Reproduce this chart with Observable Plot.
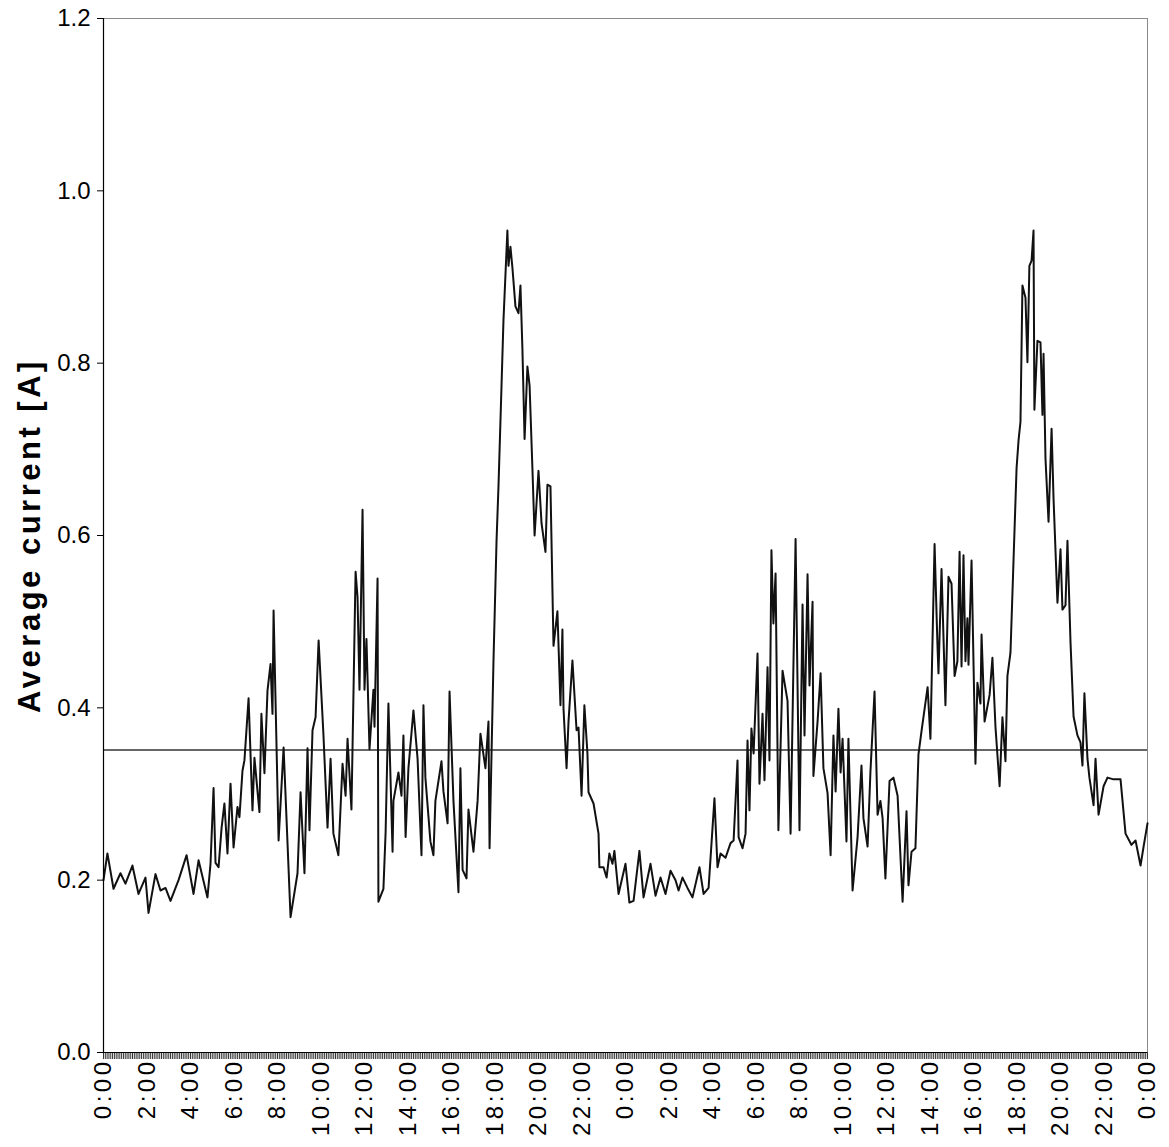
<!DOCTYPE html>
<html><head><meta charset="utf-8">
<script src="https://cdn.jsdelivr.net/npm/d3@7"></script>
<script src="https://cdn.jsdelivr.net/npm/@observablehq/plot@0.6"></script>
<style>
html,body{margin:0;padding:0;background:#fff}svg{display:block}
g[aria-label="x-axis tick label"] text{letter-spacing:3.5px}
g[aria-label="text"] text{letter-spacing:3.5px}
</style>
</head><body><div id="chart"></div>
<script>
// Time in hours since the first midnight (48 h shown)
const hours = [
0.00,0.18,0.46,0.78,1.01,1.33,1.61,1.93,2.07,2.39,2.62,2.85,3.08,3.45,3.82,4.14,4.37,4.78,4.92,5.06,
5.15,5.29,5.43,5.56,5.70,5.84,5.98,6.16,6.25,6.39,6.48,6.67,6.85,6.94,7.17,7.26,7.40,7.54,7.68,7.77,
7.82,8.05,8.28,8.60,8.92,9.06,9.24,9.38,9.47,9.61,9.75,9.89,10.11,10.30,10.44,10.57,10.80,10.99,11.13,11.22,
11.40,11.59,11.68,11.77,11.91,12.00,12.09,12.23,12.41,12.46,12.60,12.64,12.87,12.97,13.10,13.29,13.33,13.56,13.70,13.79,
13.89,14.02,14.25,14.44,14.62,14.71,14.80,15.03,15.17,15.26,15.54,15.63,15.82,15.91,16.09,16.32,16.41,16.51,16.69,16.78,
17.01,17.20,17.33,17.56,17.70,17.75,17.84,17.93,18.07,18.16,18.30,18.39,18.57,18.62,18.71,18.80,18.94,19.08,19.17,19.26,
19.36,19.49,19.59,19.72,19.82,20.00,20.14,20.32,20.41,20.55,20.69,20.87,21.01,21.10,21.15,21.29,21.38,21.56,21.75,21.84,
21.98,22.11,22.25,22.30,22.53,22.76,22.80,22.99,23.13,23.26,23.40,23.49,23.68,24.00,24.18,24.37,24.64,24.83,25.15,25.38,
25.61,25.84,26.07,26.30,26.44,26.62,26.85,27.08,27.40,27.59,27.82,28.09,28.23,28.37,28.60,28.83,28.97,29.15,29.20,29.38,
29.52,29.61,29.70,29.79,29.89,30.07,30.16,30.30,30.39,30.53,30.62,30.71,30.80,30.90,31.03,31.22,31.45,31.59,31.82,32.00,
32.14,32.23,32.37,32.46,32.60,32.64,32.83,32.97,33.10,33.29,33.43,33.56,33.66,33.79,33.89,33.98,34.16,34.25,34.44,34.67,
34.85,34.94,35.13,35.26,35.45,35.59,35.72,35.82,35.95,36.14,36.32,36.51,36.74,36.92,37.01,37.15,37.33,37.47,37.61,37.89,
38.02,38.21,38.34,38.39,38.53,38.71,38.85,38.99,39.13,39.26,39.36,39.45,39.54,39.63,39.72,39.77,39.91,40.09,40.18,40.32,
40.37,40.51,40.74,40.87,41.01,41.20,41.33,41.47,41.56,41.70,41.84,41.98,42.07,42.16,42.25,42.39,42.48,42.57,42.67,42.76,
42.80,42.94,43.08,43.17,43.22,43.31,43.45,43.59,43.68,43.86,44.00,44.09,44.23,44.32,44.46,44.60,44.78,44.92,45.01,45.10,
45.24,45.33,45.52,45.61,45.75,45.98,46.16,46.44,46.76,46.99,47.26,47.45,47.68,47.82,48.00
];
// Average current [A]
const current = [
0.200,0.231,0.190,0.208,0.196,0.217,0.184,0.203,0.162,0.207,0.188,0.191,0.176,0.200,0.229,0.184,0.223,0.180,0.219,0.307,
0.220,0.215,0.261,0.289,0.231,0.312,0.238,0.285,0.273,0.327,0.339,0.411,0.281,0.342,0.279,0.393,0.324,0.420,0.451,0.393,
0.513,0.246,0.354,0.157,0.208,0.302,0.208,0.353,0.258,0.374,0.389,0.478,0.370,0.261,0.341,0.254,0.229,0.335,0.298,0.364,
0.282,0.558,0.528,0.421,0.630,0.421,0.480,0.352,0.421,0.378,0.550,0.175,0.190,0.255,0.405,0.233,0.292,0.325,0.298,0.368,
0.250,0.330,0.397,0.341,0.229,0.403,0.319,0.245,0.229,0.292,0.338,0.303,0.266,0.419,0.292,0.186,0.330,0.212,0.202,0.282,
0.233,0.292,0.370,0.330,0.384,0.237,0.346,0.454,0.593,0.657,0.774,0.850,0.954,0.913,0.935,0.911,0.866,0.858,0.890,0.817,
0.712,0.796,0.774,0.678,0.600,0.675,0.614,0.581,0.659,0.657,0.472,0.512,0.403,0.491,0.399,0.330,0.384,0.455,0.374,0.377,
0.298,0.403,0.347,0.302,0.289,0.254,0.215,0.215,0.203,0.231,0.219,0.234,0.184,0.219,0.174,0.176,0.234,0.180,0.219,0.182,
0.203,0.184,0.211,0.200,0.188,0.203,0.191,0.180,0.215,0.184,0.191,0.295,0.215,0.231,0.226,0.243,0.246,0.339,0.250,0.237,
0.254,0.362,0.281,0.376,0.347,0.463,0.312,0.393,0.316,0.447,0.339,0.583,0.498,0.556,0.258,0.443,0.408,0.254,0.596,0.258,
0.520,0.368,0.555,0.426,0.523,0.321,0.384,0.440,0.330,0.301,0.229,0.368,0.303,0.399,0.325,0.364,0.245,0.364,0.188,0.250,
0.333,0.272,0.239,0.325,0.419,0.276,0.292,0.272,0.202,0.315,0.319,0.298,0.175,0.280,0.194,0.233,0.237,0.346,0.373,0.424,
0.364,0.590,0.475,0.440,0.561,0.403,0.552,0.544,0.437,0.454,0.581,0.448,0.577,0.454,0.504,0.450,0.571,0.335,0.429,0.405,
0.485,0.384,0.415,0.458,0.378,0.309,0.389,0.338,0.437,0.464,0.571,0.678,0.710,0.732,0.890,0.876,0.801,0.913,0.919,0.954,
0.746,0.826,0.824,0.740,0.811,0.689,0.616,0.724,0.643,0.522,0.584,0.514,0.519,0.594,0.476,0.390,0.368,0.360,0.333,0.417,
0.341,0.319,0.287,0.341,0.276,0.309,0.319,0.317,0.317,0.254,0.241,0.246,0.217,0.239,0.266
];
const meanCurrent = 0.351;
const xTickHours = [0,2,4,6,8,10,12,14,16,18,20,22,24,26,28,30,32,34,36,38,40,42,44,46,48];
const xTickLabels = ["0:00","2:00","4:00","6:00","8:00","10:00","12:00","14:00","16:00","18:00","20:00","22:00",
  "0:00","2:00","4:00","6:00","8:00","10:00","12:00","14:00","16:00","18:00","20:00","22:00","0:00"];
const yTicks = [0,0.2,0.4,0.6,0.8,1.0,1.2];
const yTitle = "Average current [A]";

const data = hours.map((h, i) => ({h, a: current[i]}));
const minorTicks = d3.range(0, 48 * 12 + 1).map(i => i / 12);
const font = "'Liberation Sans', Arial, sans-serif";

const chart = Plot.plot({
  width: 1169, height: 1147,
  marginLeft: 103, marginRight: 22, marginTop: 18, marginBottom: 95,
  style: {fontFamily: font, background: "#fff", color: "#000"},
  x: {domain: [0, 48]},
  y: {domain: [0, 1.2]},
  marks: [
    Plot.frame({stroke: "#8a8a8a", strokeWidth: 1}),
    Plot.axisY({ticks: yTicks, tickFormat: d3.format(".1f"), tickSize: 6, tickPadding: 7, fontSize: 24, label: null, stroke: "#000"}),
    Plot.axisX({ticks: minorTicks, tickSize: 7, tickFormat: () => "", label: null, stroke: "#333", strokeWidth: 1}),
    Plot.axisX({ticks: xTickHours, tickFormat: (d, i) => xTickLabels[i], tickRotate: -90, tickSize: 0, tickPadding: 6, fontSize: 24, label: null}),
    Plot.text([yTitle], {text: d => d, frameAnchor: "left", textAnchor: "middle", rotate: -90, dx: -73, fontSize: 31, fontWeight: "bold", fill: "#000"}),
    Plot.ruleY([meanCurrent], {stroke: "#333", strokeWidth: 1.4}),
    Plot.lineY(data, {x: "h", y: "a", stroke: "#111", strokeWidth: 2}),
    Plot.ruleX([0], {stroke: "#000", strokeWidth: 1.2}),
    Plot.ruleY([0], {stroke: "#000", strokeWidth: 1.2})
  ]
});
document.getElementById("chart").appendChild(chart);
</script>
</body></html>
